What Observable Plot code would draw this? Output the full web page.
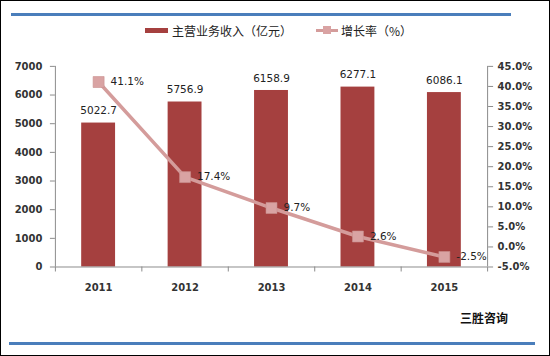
<!DOCTYPE html>
<html>
<head>
<meta charset="utf-8">
<script src="https://cdn.jsdelivr.net/npm/d3@7"></script>
<script src="https://cdn.jsdelivr.net/npm/@observablehq/plot@0.6"></script>
<style>
  html, body { margin: 0; padding: 0; background: #fff; }
  #wrap { position: relative; width: 550px; height: 356px; box-sizing: border-box; border: 1px solid #000; overflow: hidden; font-family: "DejaVu Sans", sans-serif; }
  #chart { position: absolute; left: -1px; top: -1px; }
  .blue { position: absolute; height: 3px; background: #4a7ebb; }
  #legend { position: absolute; top: 21px; left: 144px; display: flex; align-items: center; font-family: "Noto Sans CJK SC", sans-serif; font-size: 12px; color: #222; }
  .sw1 { width: 23px; height: 5px; background: #a5403f; margin-right: 4px; }
  .sw2 { position: relative; width: 22px; height: 3px; background: #d49c9b; margin-right: 3px; margin-left: 24px; }
  .sw2::after { content: ""; position: absolute; left: 7px; top: -3px; width: 8px; height: 8px; background: #d9a3a3; }
  #source { position: absolute; left: 459px; top: 308px; font-family: "Noto Sans CJK SC", sans-serif; font-size: 12px; font-weight: bold; color: #111; }
</style>
</head>
<body>
<div id="wrap">
  <div id="chart"></div>
  <div class="blue" style="left:10px; top:12px; width:500px;"></div>
  <div class="blue" style="left:8px; top:341px; width:526px;"></div>
  <div id="legend"><span class="sw1"></span><span>主营业务收入（亿元）</span><span class="sw2"></span><span>增长率（%）</span></div>
  <div id="source">三胜咨询</div>
</div>
<script>
const years = [2011, 2012, 2013, 2014, 2015];
const revenue = [5022.7, 5756.9, 6158.9, 6277.1, 6086.1];
const growth = [41.1, 17.4, 9.7, 2.6, -2.5];
const leftTicks = [0, 1000, 2000, 3000, 4000, 5000, 6000, 7000];
const rightTicks = [-5, 0, 5, 10, 15, 20, 25, 30, 35, 40, 45];

const pctMin = -5, pctMax = 45, yMax = 7000;
const pctToY = p => (p - pctMin) / (pctMax - pctMin) * yMax;
const yToPct = v => v / yMax * (pctMax - pctMin) + pctMin;

const halfBar = 0.196;
const data = years.map((yr, i) => ({
  year: yr, x1: yr - halfBar, x2: yr + halfBar,
  rev: revenue[i], pct: growth[i], py: pctToY(growth[i])
}));
const boundaries = d3.range(years.length + 1).map(i => years[0] - 0.5 + i);

const font = "DejaVu Sans, sans-serif";
const chart = Plot.plot({
  width: 550, height: 356,
  marginLeft: 55, marginRight: 62, marginTop: 66, marginBottom: 89,
  style: { fontFamily: font, fontSize: "10px", color: "#333", background: "transparent" },
  x: { type: "linear", domain: [years[0] - 0.5, years[years.length - 1] + 0.5] },
  y: { domain: [0, yMax] },
  marks: [
    Plot.rectY(data, { x1: "x1", x2: "x2", y: "rev", fill: "#a5403f" }),
    Plot.ruleX([years[0] - 0.5], { stroke: "#8c8c8c" }),
    Plot.ruleX([years[years.length - 1] + 0.5], { stroke: "#8c8c8c" }),
    Plot.ruleY([0], { stroke: "#8c8c8c" }),
    Plot.axisY({ anchor: "left", ticks: leftTicks, tickFormat: d => String(d), tickSize: 5, tickPadding: 8, stroke: "#8c8c8c", fontWeight: "bold", fill: "#333", label: null }),
    Plot.axisY({ anchor: "right", ticks: rightTicks.map(pctToY), tickFormat: v => yToPct(v).toFixed(1) + "%", tickSize: 5, tickPadding: 5, stroke: "#8c8c8c", fontWeight: "bold", fill: "#333", label: null }),
    Plot.axisX({ ticks: boundaries, tickFormat: () => "", tickSize: 5, stroke: "#8c8c8c", label: null }),
    Plot.axisX({ ticks: years, tickFormat: d => String(d), tickSize: 0, tickPadding: 17, fontWeight: "bold", fill: "#333", label: null }),
    Plot.text(data, { x: "year", y: "rev", text: d => d.rev.toFixed(1), dy: -12, fill: "#222", fontSize: 10.5 }),
    Plot.line(data, { x: "year", y: "py", stroke: "#d49c9b", strokeWidth: 3.5 }),
    Plot.dot(data, { x: "year", y: "py", symbol: "square", r: 6.2, fill: "#d9a3a3", stroke: "#c98e8d", strokeWidth: 0.6 }),
    Plot.text(data, { x: "year", y: "py", text: d => d.pct.toFixed(1) + "%", textAnchor: "start", dx: 12, fill: "#222", fontSize: 10.5 })
  ]
});
document.getElementById("chart").appendChild(chart);
</script>
</body>
</html>
